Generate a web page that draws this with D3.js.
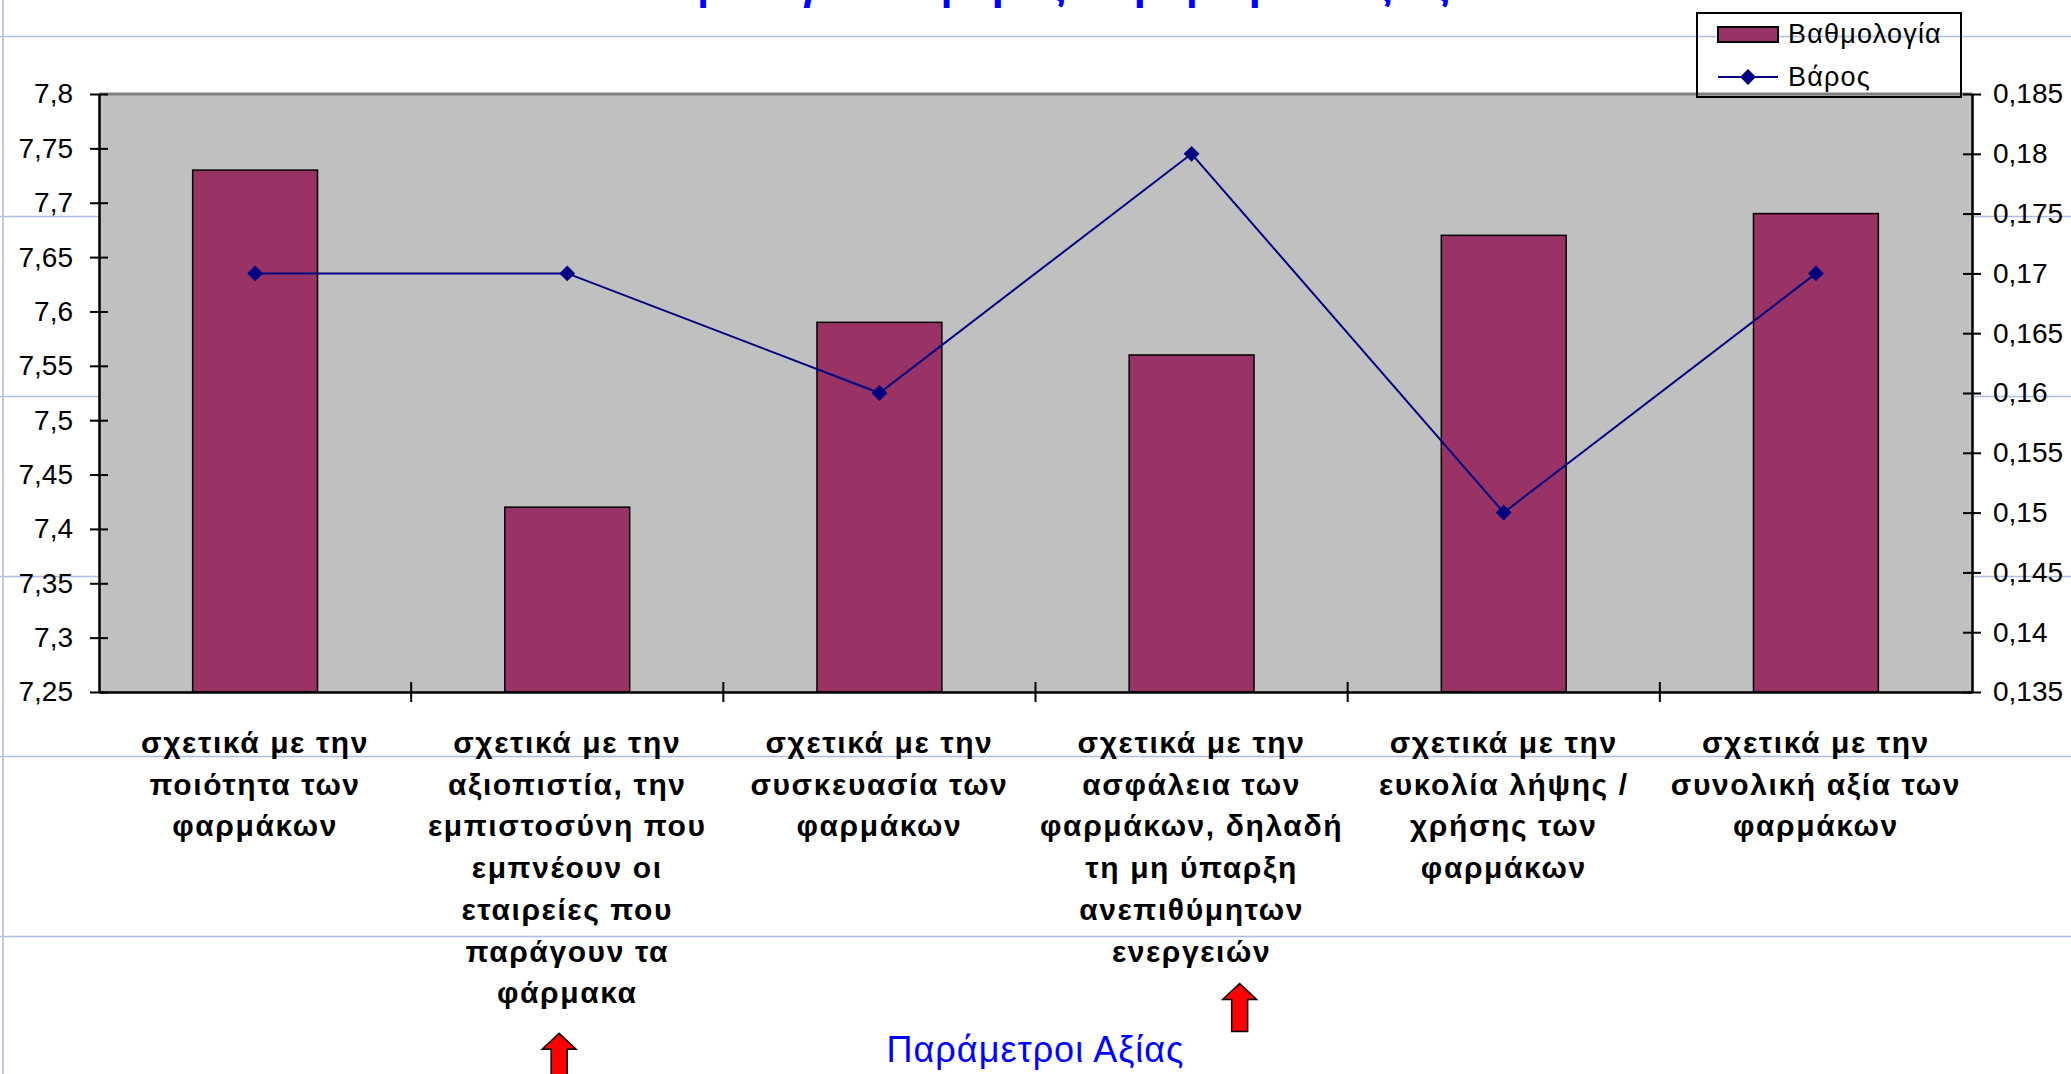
<!DOCTYPE html>
<html>
<head>
<meta charset="utf-8">
<script src="https://cdn.jsdelivr.net/npm/d3@7"></script>
<style>
	html, body { margin: 0; padding: 0; background: #fff; }
	svg { display: block; font-family: "Liberation Sans", Arial, sans-serif; }
	.tick-label { font-size: 28px; fill: #000; }
	.cat-label { font-size: 30px; font-weight: bold; letter-spacing: 1.6px; fill: #000; }
	.legend-label { font-size: 27px; letter-spacing: 1.2px; fill: #000; }
</style>
</head>
<body>
<div id="chart-area"><svg></svg></div>
<script>
const chartSize = { width: 2071, height: 1074 };
const margin = { left: 99, right: 99, top: 94, bottom: 382 };
const width = chartSize.width - margin.left - margin.right;
const height = chartSize.height - margin.top - margin.bottom;

const categories = [
	["σχετικά με την", "ποιότητα των", "φαρμάκων"],
	["σχετικά με την", "αξιοπιστία, την", "εμπιστοσύνη που", "εμπνέουν οι", "εταιρείες που", "παράγουν τα", "φάρμακα"],
	["σχετικά με την", "συσκευασία των", "φαρμάκων"],
	["σχετικά με την", "ασφάλεια των", "φαρμάκων, δηλαδή", "τη μη ύπαρξη", "ανεπιθύμητων", "ενεργειών"],
	["σχετικά με την", "ευκολία λήψης /", "χρήσης των", "φαρμάκων"],
	["σχετικά με την", "συνολική αξία των", "φαρμάκων"]
];
const scores = [7.73, 7.42, 7.59, 7.56, 7.67, 7.69];
const weights = [0.17, 0.17, 0.16, 0.18, 0.15, 0.17];
const leftTicks = [7.25, 7.3, 7.35, 7.4, 7.45, 7.5, 7.55, 7.6, 7.65, 7.7, 7.75, 7.8];
const rightTicks = [0.135, 0.14, 0.145, 0.15, 0.155, 0.16, 0.165, 0.17, 0.175, 0.18, 0.185];
const seriesNames = ["Βαθμολογία", "Βάρος"];
// the title sits above the visible page, only its lower part shows
const titleText = "Βαθμολογία και βάρος παραμέτρων αξίας";
const axisTitle = "Παράμετροι Αξίας";
// red arrows: [category index, shift within band, gap under last label line]
const arrows = [[1, -0.026, 30], [3, 0.154, 22]];

const barColor = "#993366";
const lineColor = "#000080";
const commaFormat = d => String(d).replace(".", ",");
const labelTop = 61;
const labelStep = 41.7;

const drawChart = () => {
	const svg = d3
		.select("#chart-area svg")
		.attr("width", chartSize.width)
		.attr("height", chartSize.height);

	// worksheet cell lines behind the chart
	svg.append("g")
		.selectAll("line")
		.data(d3.range(36, chartSize.height, 180))
		.join("line")
		.attr("x1", 0)
		.attr("x2", chartSize.width)
		.attr("y1", d => d + 0.5)
		.attr("y2", d => d + 0.5)
		.attr("stroke", "#aebce6")
		.attr("stroke-width", 1.5);

	svg.append("line")
		.attr("x1", 3).attr("x2", 3)
		.attr("y1", 0).attr("y2", chartSize.height)
		.attr("stroke", "#c4c4dc")
		.attr("stroke-width", 2);

	svg.append("text")
		.attr("x", 1034)
		.attr("y", -1)
		.attr("text-anchor", "middle")
		.attr("fill", "#0000ff")
		.attr("font-weight", "bold")
		.attr("font-size", 42)
		.text(titleText);

	const g = svg.append("g")
		.attr("transform", `translate(${margin.left},${margin.top})`);

	const x = d3.scaleBand()
		.domain(d3.range(categories.length))
		.range([0, width])
		.paddingInner(0.6)
		.paddingOuter(0.3);

	const xb = d3.scaleBand()
		.domain(d3.range(categories.length))
		.range([0, width]);

	const yLeft = d3.scaleLinear().domain([7.25, 7.8]).range([height, 0]);
	const yRight = d3.scaleLinear().domain([0.135, 0.185]).range([height, 0]);

	g.append("rect")
		.attr("width", width)
		.attr("height", height)
		.attr("fill", "#c0c0c0");

	g.append("line")
		.attr("x1", 0).attr("x2", width)
		.attr("y1", 0).attr("y2", 0)
		.attr("stroke", "#808080")
		.attr("stroke-width", 3);

	g.append("g")
		.selectAll("rect")
		.data(scores)
		.join("rect")
		.attr("x", (d, i) => x(i))
		.attr("y", d => yLeft(d))
		.attr("width", x.bandwidth())
		.attr("height", d => height - yLeft(d))
		.attr("fill", barColor)
		.attr("stroke", "#000")
		.attr("stroke-width", 1.5);

	const line = d3.line()
		.x((d, i) => xb(i) + xb.bandwidth() / 2)
		.y(d => yRight(d));

	g.append("path")
		.attr("d", line(weights))
		.attr("fill", "none")
		.attr("stroke", lineColor)
		.attr("stroke-width", 2);

	const diamond = d3.symbol().type(d3.symbolDiamond2).size(160);

	g.append("g")
		.selectAll("path")
		.data(weights)
		.join("path")
		.attr("d", diamond)
		.attr("transform", (d, i) => `translate(${xb(i) + xb.bandwidth() / 2},${yRight(d)})`)
		.attr("fill", lineColor);

	// axes
	const yAxisLeft = d3.axisLeft(yLeft)
		.tickValues(leftTicks)
		.tickFormat(commaFormat)
		.tickSizeInner(9)
		.tickSizeOuter(0)
		.tickPadding(17);

	const yAxisRight = d3.axisRight(yRight)
		.tickValues(rightTicks)
		.tickFormat(commaFormat)
		.tickSizeInner(9)
		.tickSizeOuter(0)
		.tickPadding(12);

	const styleAxis = sel => {
		sel.select(".domain").attr("stroke", "#000").attr("stroke-width", 2.5);
		sel.selectAll(".tick line").attr("stroke", "#000").attr("stroke-width", 2);
		sel.selectAll(".tick text")
			.attr("class", "tick-label")
			.attr("font-family", null)
			.attr("font-size", null);
		sel.attr("font-family", null).attr("font-size", null);
	};

	const gl = g.append("g").call(yAxisLeft).call(styleAxis);
	gl.selectAll(".tick").append("line")
		.attr("x2", 9).attr("stroke", "#000").attr("stroke-width", 2);

	const gr = g.append("g")
		.attr("transform", `translate(${width},0)`)
		.call(yAxisRight)
		.call(styleAxis);
	gr.selectAll(".tick").append("line")
		.attr("x2", -9).attr("stroke", "#000").attr("stroke-width", 2);

	const xAxis = d3.axisBottom(xb)
		.tickValues(d3.range(1, categories.length))
		.tickSizeInner(10)
		.tickSizeOuter(0)
		.tickFormat("");

	const gx = g.append("g")
		.attr("transform", `translate(0,${height})`)
		.call(xAxis)
		.call(styleAxis);
	gx.selectAll(".tick").attr("transform", d => `translate(${xb(d)},0)`);
	gx.selectAll(".tick").append("line")
		.attr("y2", -10).attr("stroke", "#000").attr("stroke-width", 2);

	// category labels
	const labels = g.append("g")
		.selectAll("text")
		.data(categories)
		.join("text")
		.attr("class", "cat-label")
		.attr("text-anchor", "middle")
		.attr("transform", (d, i) => `translate(${xb(i) + xb.bandwidth() / 2},${height + labelTop})`);

	labels.selectAll("tspan")
		.data(d => d)
		.join("tspan")
		.attr("x", 0)
		.attr("y", (d, i) => i * labelStep)
		.text(d => d);

	svg.append("text")
		.attr("x", margin.left + width / 2)
		.attr("y", 1062)
		.attr("text-anchor", "middle")
		.attr("fill", "#0000ff")
		.attr("font-size", 36)
		.attr("letter-spacing", 1)
		.text(axisTitle);

	// red arrows
	const arrowPath = (cx, top) => {
		const p = d3.path();
		p.moveTo(cx, top);
		p.lineTo(cx + 17, top + 16);
		p.lineTo(cx + 8, top + 16);
		p.lineTo(cx + 8, top + 48);
		p.lineTo(cx - 8, top + 48);
		p.lineTo(cx - 8, top + 16);
		p.lineTo(cx - 17, top + 16);
		p.closePath();
		return p.toString();
	};

	g.append("g")
		.selectAll("path")
		.data(arrows)
		.join("path")
		.attr("d", ([c, s, gap]) => {
			const lastLine = height + labelTop + (categories[c].length - 1) * labelStep;
			return arrowPath(xb(c) + xb.bandwidth() * (0.5 + s), lastLine + gap);
		})
		.attr("fill", "#ff0000")
		.attr("stroke", "#000")
		.attr("stroke-width", 1.5);

	// legend
	const legend = svg.append("g").attr("transform", "translate(1697,13)");
	legend.append("rect")
		.attr("width", 264)
		.attr("height", 84)
		.attr("fill", "none")
		.attr("stroke", "#000")
		.attr("stroke-width", 2);
	legend.append("rect")
		.attr("x", 21).attr("y", 14)
		.attr("width", 60).attr("height", 15)
		.attr("fill", barColor)
		.attr("stroke", "#000")
		.attr("stroke-width", 2);
	legend.append("line")
		.attr("x1", 21).attr("x2", 81)
		.attr("y1", 64).attr("y2", 64)
		.attr("stroke", lineColor)
		.attr("stroke-width", 2);
	legend.append("path")
		.attr("d", diamond)
		.attr("transform", "translate(51,64)")
		.attr("fill", lineColor);
	legend.selectAll(".legend-label")
		.data(seriesNames)
		.join("text")
		.attr("class", "legend-label")
		.attr("x", 91)
		.attr("y", (d, i) => 30 + i * 43)
		.text(d => d);
};

window.onload = drawChart;
</script>
</body>
</html>
